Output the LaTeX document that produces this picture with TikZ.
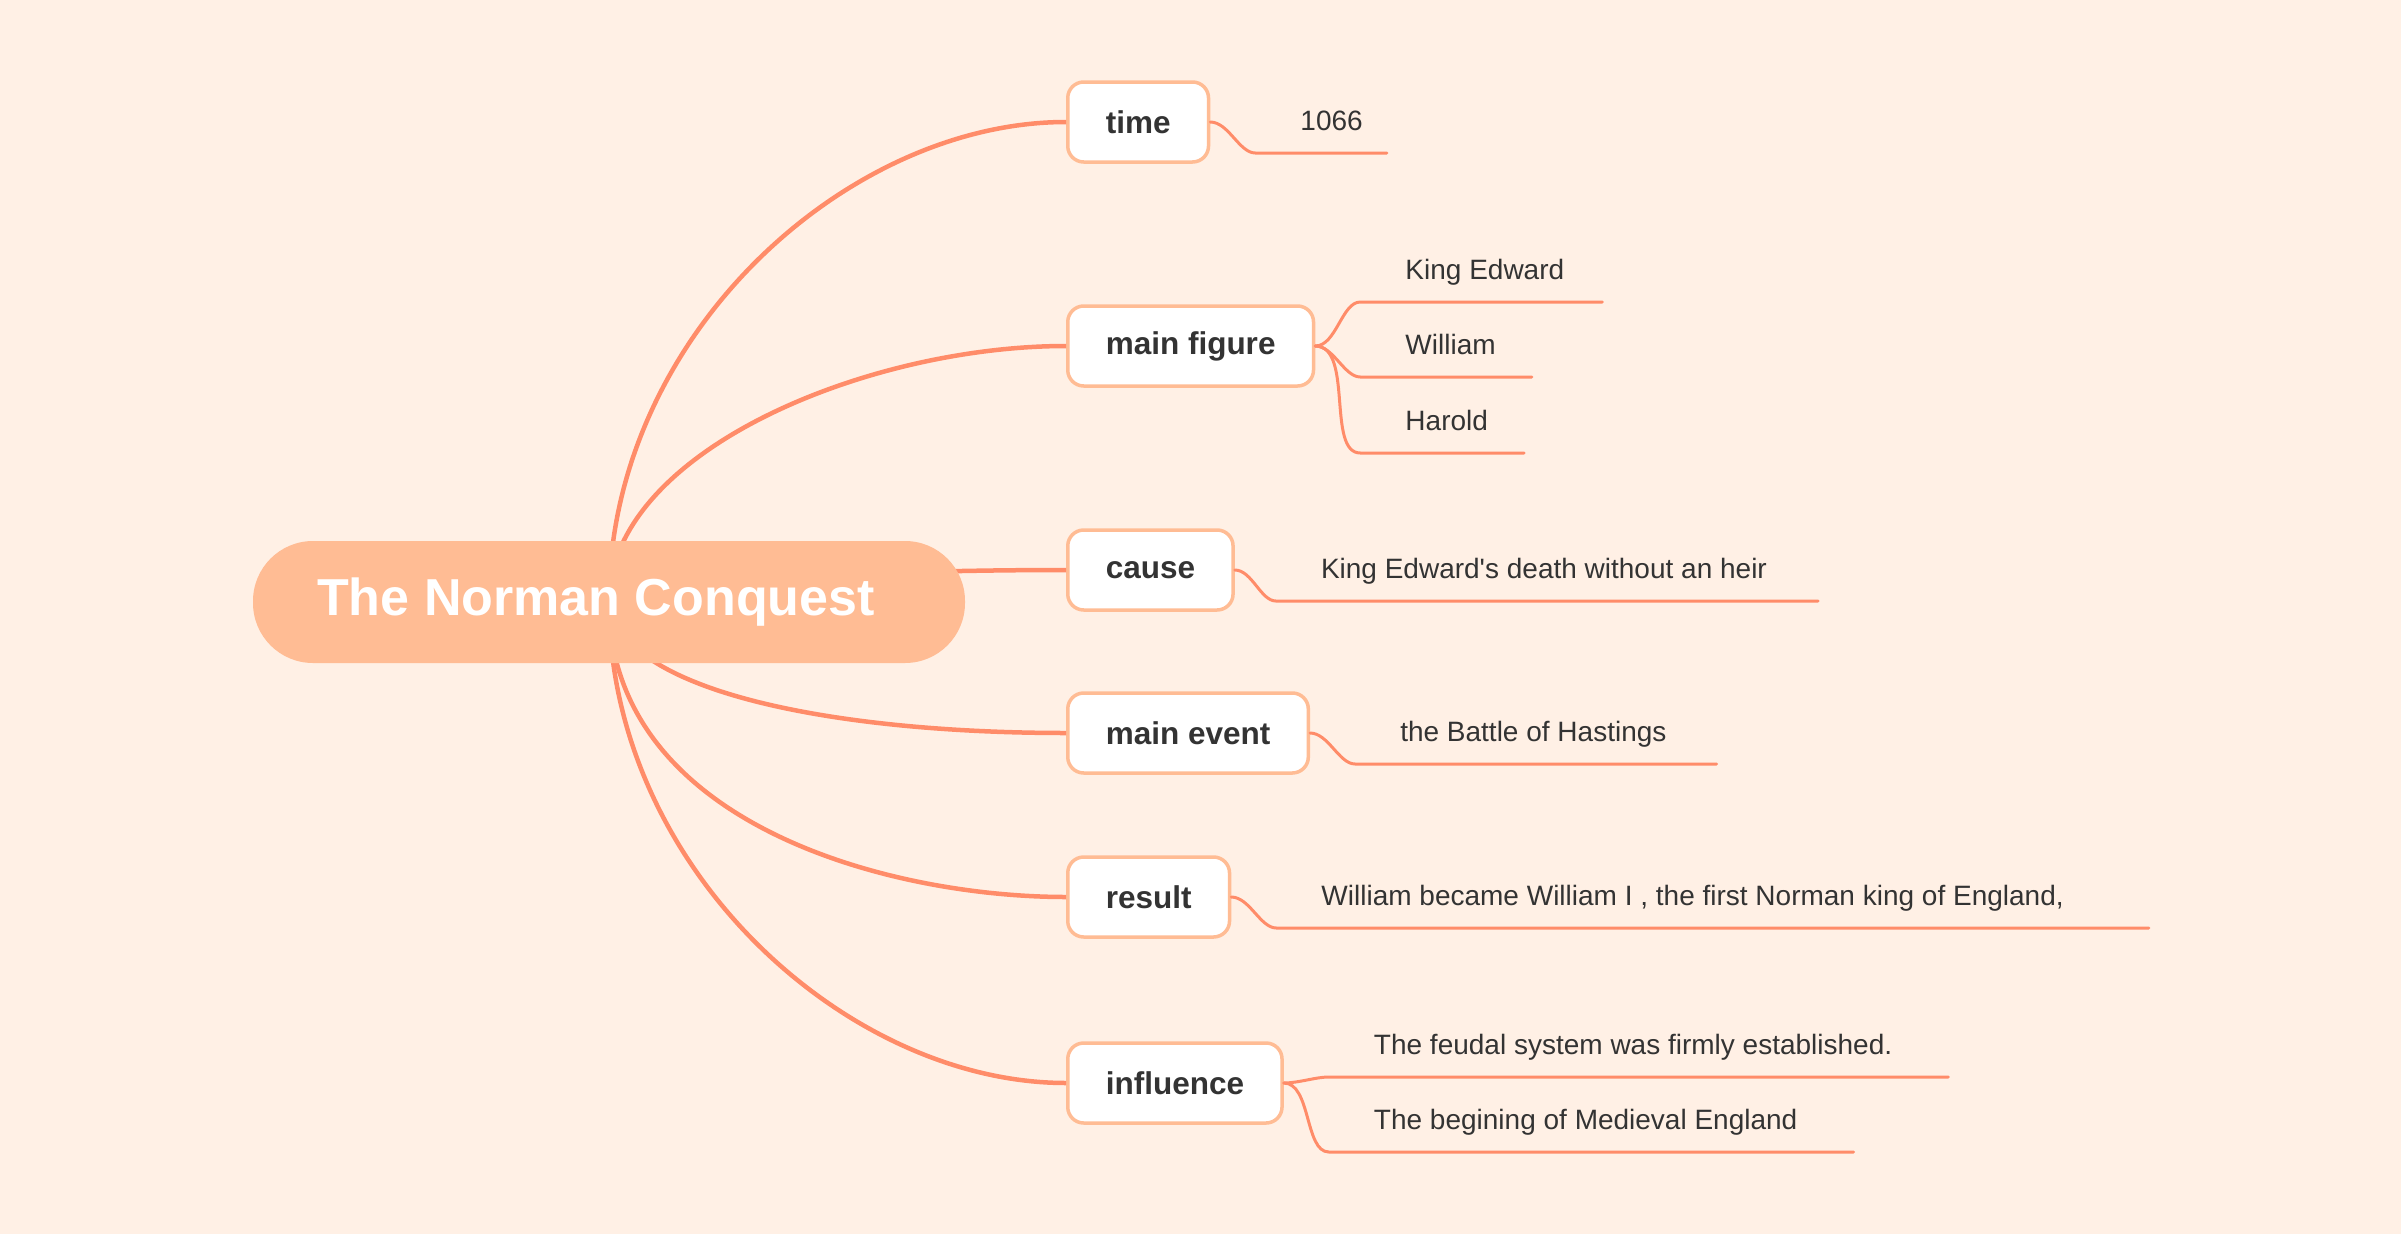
\documentclass[tikz,border=0pt]{standalone}
\usepackage{fontspec}
\setmainfont{Liberation Sans}
\usetikzlibrary{positioning}
\definecolor{paper}{HTML}{FFF0E5}
\definecolor{peach}{HTML}{FFBC94}
\definecolor{salmon}{HTML}{FF8C69}
\definecolor{ink}{HTML}{333333}

\begin{document}
\begin{tikzpicture}[x=1pt, y=-1pt,
			root/.style={fill=peach, rounded corners=60pt, minimum width=712pt, minimum height=122pt, text=white, font=\bfseries\fontsize{52}{60}\selectfont},
			branch/.style={draw=peach, fill=white, line width=3.5pt, rounded corners=16pt, minimum height=80pt, inner xsep=38pt, anchor=west, text=ink, font=\bfseries\fontsize{31.5}{38}\selectfont},
			leaf/.style={inner xsep=30pt, inner ysep=16pt, text height=20pt, text depth=6pt, text=ink, font=\fontsize{28}{34}\selectfont},
			limb/.style={draw=salmon, line width=4.5pt},
			twig/.style={draw=salmon, line width=3pt, line cap=round, out=0, in=180, out looseness=0.85, in looseness=0.75}]
			\fill[paper] (0,0) rectangle (2401,1234);
			\coordinate (hub) at (609,602);
			\node[branch] (time) at (1066,122) {time};
			\node[branch] (fig) at (1066,346) {main figure};
			\node[branch] (cause) at (1066,570) {cause};
			\node[branch] (event) at (1066,733) {main event};
			\node[branch] (res) at (1066,897) {result};
			\node[branch] (infl) at (1066,1083) {influence};
			\foreach \b/\dx/\dy/\ex in {time/0/-265/220, fig/0/-150/200, cause/0/-20/200, event/10/90/230, res/0/220/180, infl/0/265/220}
				\draw[limb] (hub) .. controls +(\dx,\dy) and +(-\ex,0) .. (\b.west);
			\node[root] (conquest) at (hub) {The Norman Conquest\hspace*{26pt}};
			\node[leaf, right=60pt of time, anchor=south west, yshift=-31pt] (t1) {1066};
			\node[leaf, right=60pt of fig, anchor=south west, yshift=44pt] (f1) {King Edward};
			\node[leaf, right=60pt of fig, anchor=south west, yshift=-31pt] (f2) {William};
			\node[leaf, right=60pt of fig, anchor=south west, yshift=-107pt] (f3) {Harold};
			\node[leaf, right=56pt of cause, anchor=south west, yshift=-31pt] (c1) {King Edward\textquotesingle s death without an heir};
			\node[leaf, right=60pt of event, anchor=south west, yshift=-31pt] (e1) {the Battle of Hastings};
			\node[leaf, right=60pt of res, anchor=south west, yshift=-31pt] (r1) {William became William I , the first Norman king of England,};
			\node[leaf, right=60pt of infl, anchor=south west, yshift=6pt] (i1) {The feudal system was firmly established.};
			\node[leaf, right=60pt of infl, anchor=south west, yshift=-69pt] (i2) {The begining of Medieval England};
			\draw[twig] (time.east) to ([xshift=-15pt]t1.south west) -- ([xshift=-6pt]t1.south east);
			\draw[twig] (fig.east) to ([xshift=-15pt]f1.south west) -- ([xshift=8pt]f1.south east);
			\draw[twig] (fig.east) to ([xshift=-15pt]f2.south west) -- ([xshift=6pt]f2.south east);
			\draw[twig] (fig.east) to ([xshift=-15pt]f3.south west) -- ([xshift=6pt]f3.south east);
			\draw[twig] (cause.east) to ([xshift=-15pt]c1.south west) -- ([xshift=21pt]c1.south east);
			\draw[twig] (event.east) to ([xshift=-15pt]e1.south west) -- ([xshift=20pt]e1.south east);
			\draw[twig] (res.east) to ([xshift=-15pt]r1.south west) -- ([xshift=55pt]r1.south east);
			\draw[twig] (infl.east) to ([xshift=-15pt]i1.south west) -- ([xshift=26pt]i1.south east);
			\draw[twig] (infl.east) to ([xshift=-15pt]i2.south west) -- ([xshift=26pt]i2.south east);
		\end{tikzpicture}
\end{document}
